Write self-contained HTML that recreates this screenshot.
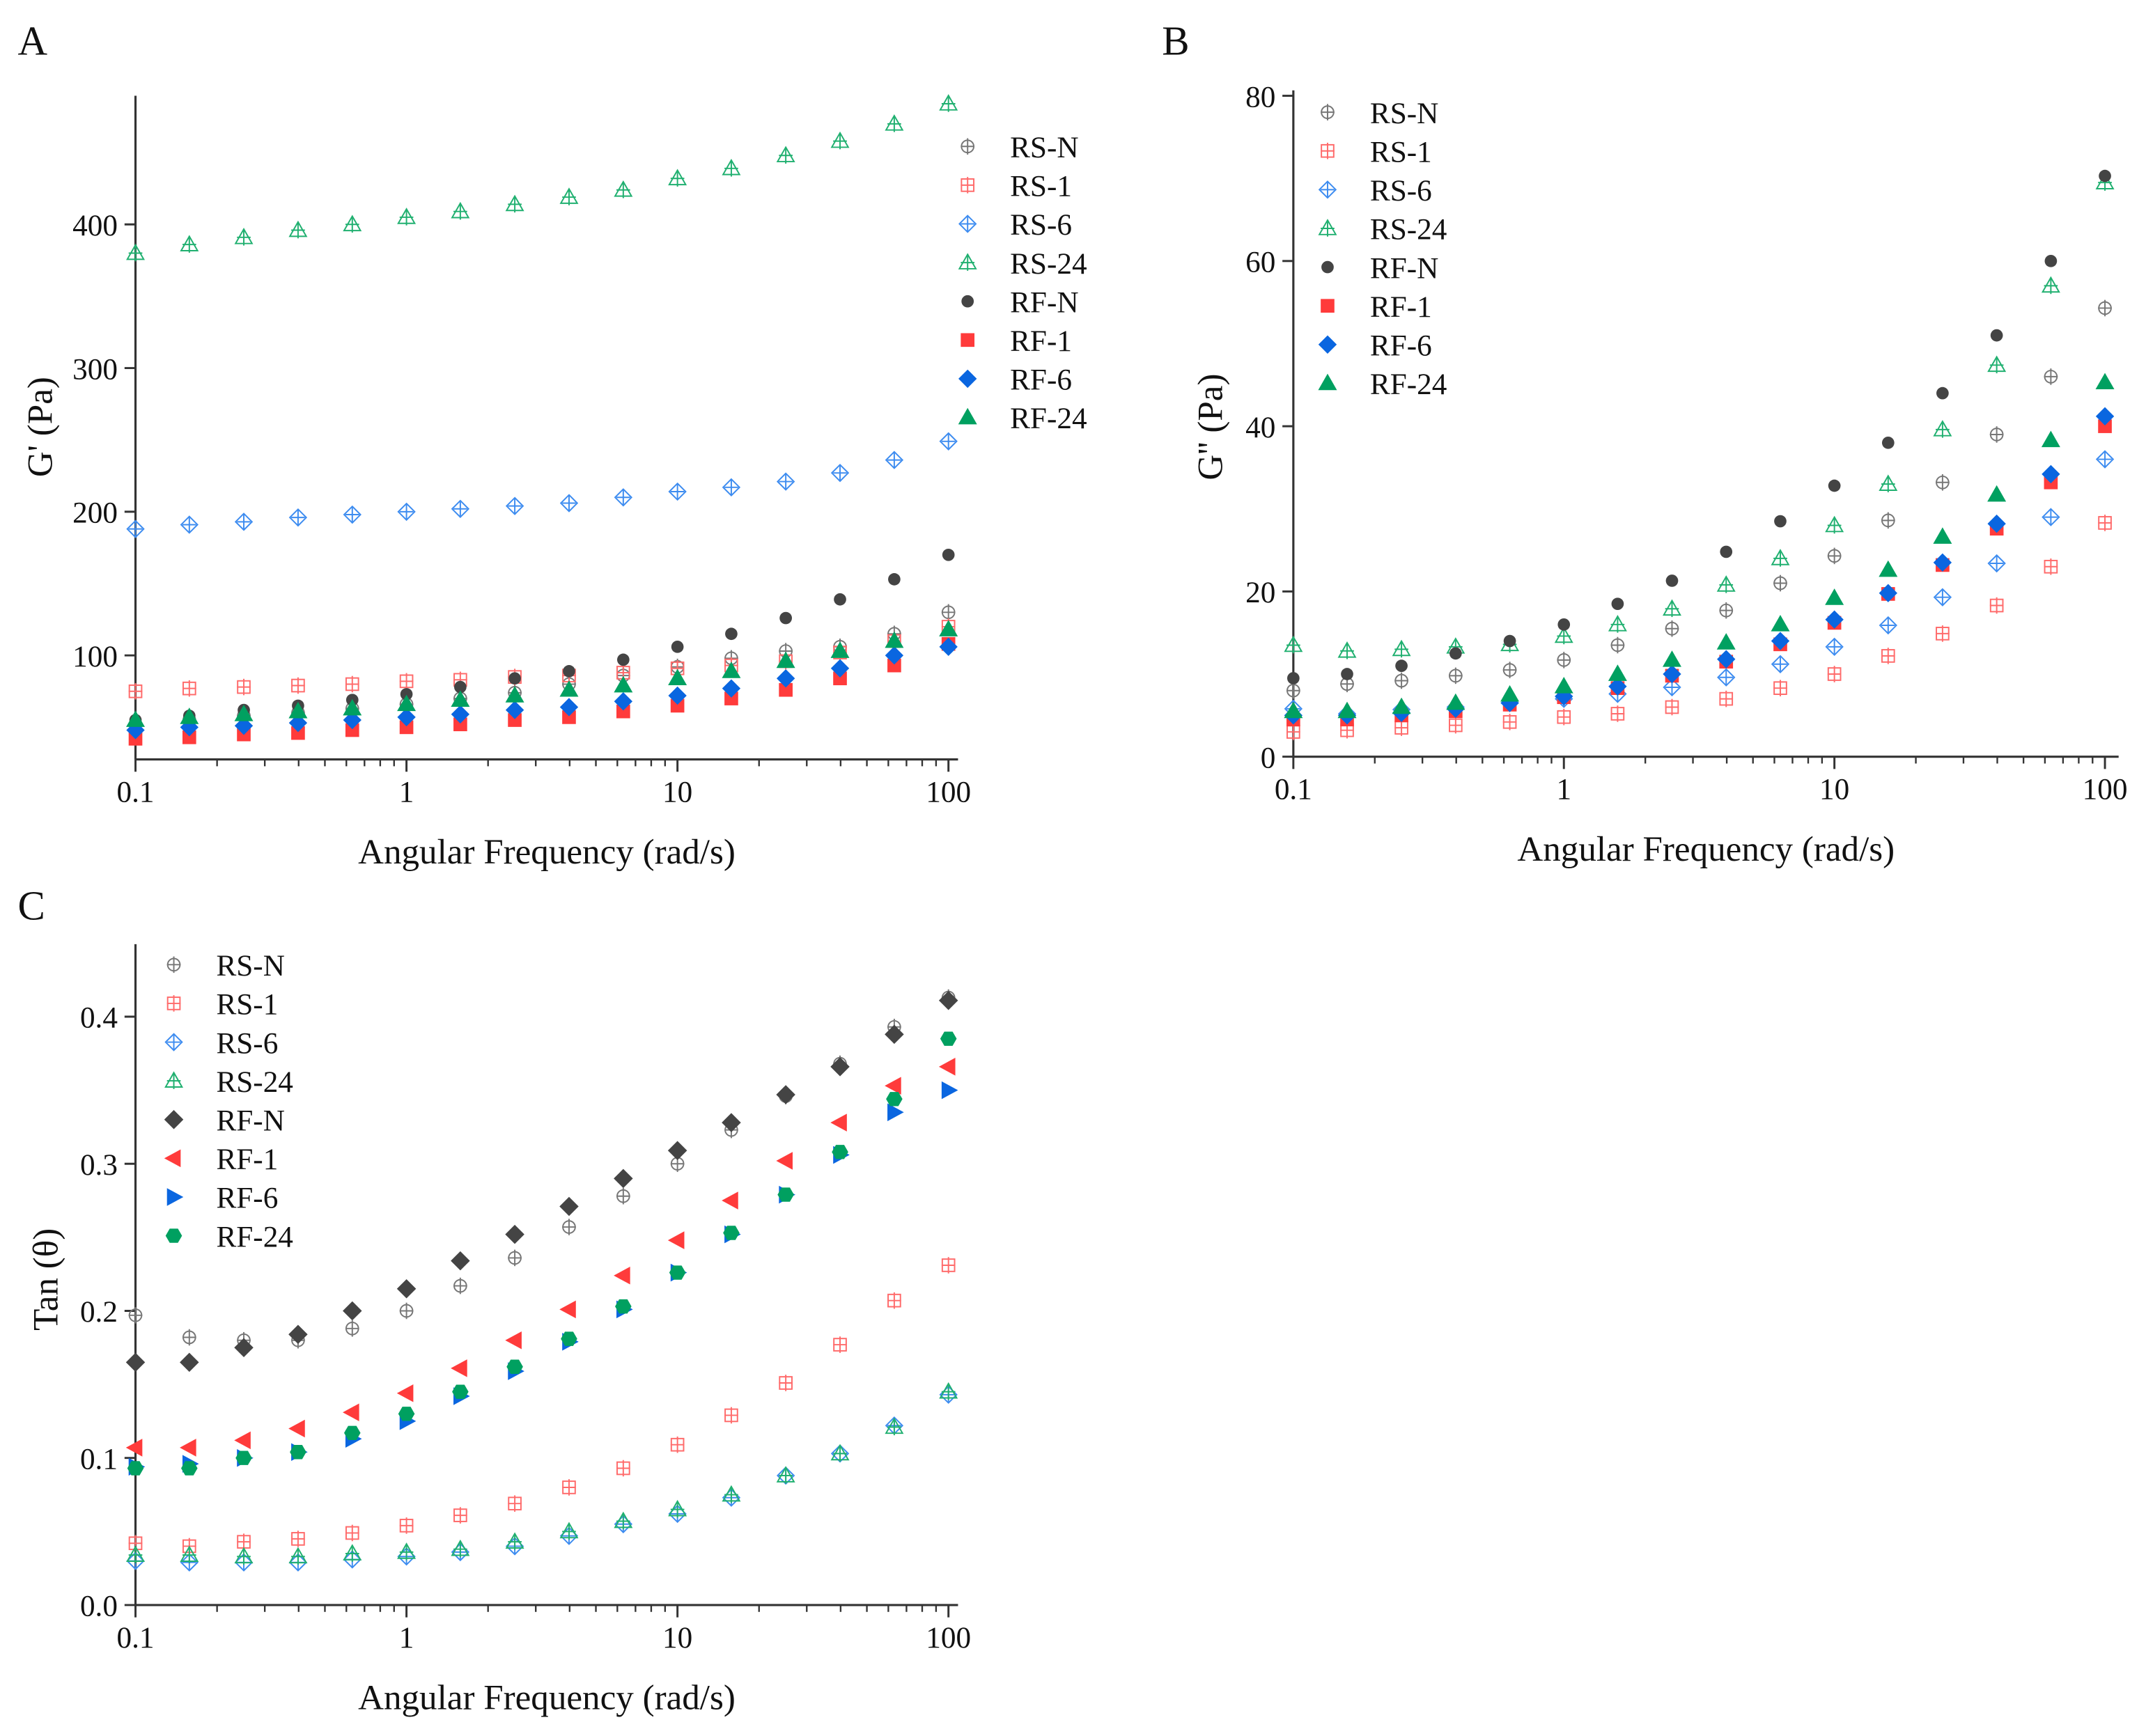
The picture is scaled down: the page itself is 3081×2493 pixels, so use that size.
<!DOCTYPE html>
<html><head><meta charset="utf-8"><style>
html,body{margin:0;padding:0;background:#fff}
svg{display:block}
svg text{font-family:"Liberation Serif","Times New Roman",serif;fill:#111}
</style></head><body>
<svg id="fig" font-family="Liberation Serif, serif" width="3081" height="2493" viewBox="0 0 1568 1268.7" preserveAspectRatio="none" xmlns="http://www.w3.org/2000/svg"></svg>
<script>
const freq=[0.1,0.158,0.251,0.398,0.631,1,1.58,2.51,3.98,6.31,10,15.8,25.1,39.8,63.1,100];
const seriesNames=["RS-N","RS-1","RS-6","RS-24","RF-N","RF-1","RF-6","RF-24"];
const gpRSN=[52,55,58,60,63,66,70,74,80,86,92,98,103,106,115,130];
const gpRS1=[75,77,78,79,80,82,83,85,86,88,91,93,96,102,110,120];
const gpRS6=[188,191,193,196,198,200,202,204,206,210,214,217,221,227,236,249];
const gpRS24=[380,386,391,396,400,405,409,414,419,424,432,439,448,458,470,484];
const gpRFN=[55,58,62,65,69,73,78,84,89,97,106,115,126,139,153,170];
const gpRF1=[42,43,45,46,48,50,52,55,57,61,65,70,76,84,93,108];
const gpRF6=[48,50,51,53,55,57,59,62,64,68,72,77,84,91,100,106];
const gpRF24=[55,57,59,61,63,66,69,72,76,79,84,89,96,103,110,118];
const gppRSN=[8,8.8,9.2,9.8,10.5,11.7,13.5,15.5,17.7,21,24.3,28.6,33.2,39,46,54.3];
const gppRS1=[3,3.2,3.5,3.8,4.2,4.8,5.2,6,7,8.3,10,12.2,14.9,18.3,23,28.3];
const gppRS6=[5.8,5.2,5.7,6,6.5,7,7.6,8.4,9.6,11.2,13.3,15.9,19.3,23.4,29,36];
const gppRS24=[13.5,12.8,13,13.3,13.6,14.6,16,17.9,20.8,24,28,33,39.6,47.4,57,69.5];
const gppRFN=[9.5,10,11,12.5,14,16,18.5,21.3,24.8,28.5,32.8,38,44,51,60,70.3];
const gppRF1=[4.5,4.5,5,5.5,6.3,7.2,8.3,9.8,11.5,13.6,16.2,19.7,23.2,27.6,33.2,40];
const gppRF6=[5,5,5.3,5.8,6.5,7.3,8.5,10,11.8,14,16.6,19.8,23.5,28.2,34.2,41.2];
const gppRF24=[5.5,5.5,6,6.5,7.5,8.5,10,11.7,13.8,16,19.2,22.6,26.6,31.7,38.3,45.3];
const tdRSN=[0.197,0.182,0.18,0.18,0.188,0.2,0.217,0.236,0.257,0.278,0.3,0.323,0.346,0.368,0.393,0.413];
const tdRS1=[0.042,0.04,0.043,0.045,0.049,0.054,0.061,0.069,0.08,0.093,0.109,0.129,0.151,0.177,0.207,0.231];
const tdRS6=[0.03,0.029,0.029,0.029,0.031,0.033,0.036,0.04,0.047,0.055,0.062,0.073,0.088,0.103,0.122,0.143];
const tdRS24=[0.034,0.034,0.033,0.033,0.035,0.036,0.038,0.043,0.05,0.057,0.065,0.075,0.088,0.103,0.121,0.145];
const tdRFN=[0.165,0.165,0.175,0.184,0.2,0.215,0.234,0.252,0.271,0.29,0.309,0.328,0.347,0.366,0.388,0.411];
const tdRF1=[0.107,0.107,0.112,0.12,0.131,0.144,0.161,0.18,0.201,0.224,0.248,0.275,0.302,0.328,0.353,0.366];
const tdRF6=[0.094,0.096,0.1,0.104,0.113,0.125,0.142,0.159,0.179,0.201,0.226,0.252,0.279,0.306,0.335,0.35];
const tdRF24=[0.093,0.093,0.1,0.104,0.117,0.13,0.145,0.162,0.181,0.203,0.226,0.253,0.279,0.308,0.344,0.385];
const xTicks=[0.1,1,10,100];
const xTickLabels=["0.1","1","10","100"];
const yTicksA=[100,200,300,400];
const yTicksB=[0,20,40,60,80];
const yTicksC=[0,0.1,0.2,0.3,0.4];
const yTickLabelsC=["0.0","0.1","0.2","0.3","0.4"];

const NS="http://www.w3.org/2000/svg";
const svg=document.getElementById('fig');
function mk(tag,attrs,parent,txt){const e=document.createElementNS(NS,tag);for(const k in attrs)e.setAttribute(k,attrs[k]);if(txt!==undefined)e.textContent=txt;(parent||svg).appendChild(e);return e;}
const GR="#444",RD="#ff3b3b",RDL="#ff6b6b",BL="#0a66e0",BLL="#3d8cf0",GN="#00a060",GNL="#20b070";
const styles=[
 {shape:"circ",open:true,c:"#777"},{shape:"sq",open:true,c:RDL},{shape:"dia",open:true,c:BLL},{shape:"tri",open:true,c:GNL},
 {shape:"circ",open:false,c:GR},{shape:"sq",open:false,c:RD},{shape:"dia",open:false,c:BL},{shape:"tri",open:false,c:GN}];
const stylesC=[styles[0],styles[1],styles[2],styles[3],
 {shape:"bigdia",open:false,c:GR},{shape:"ltri",open:false,c:RD},{shape:"rtri",open:false,c:BL},{shape:"hex",open:false,c:GN}];
function marker(g,s,x,y){
 let d;
 switch(s.shape){
  case"circ":if(s.open){mk('circle',{cx:x,cy:y,r:4.5,fill:'none',stroke:s.c,'stroke-width':1},g);}else{mk('circle',{cx:x,cy:y,r:4.5,fill:s.c},g);}break;
  case"sq":mk('rect',{x:x-4.5,y:y-4.5,width:9,height:9,fill:s.open?'none':s.c,stroke:s.c,'stroke-width':1},g);break;
  case"dia":mk('polygon',{points:`${x},${y-6} ${x+6},${y} ${x},${y+6} ${x-6},${y}`,fill:s.open?'none':s.c,stroke:s.c,'stroke-width':1},g);break;
  case"tri":mk('polygon',{points:`${x},${y-6} ${x+6},${y+4.5} ${x-6},${y+4.5}`,fill:s.open?'none':s.c,stroke:s.c,'stroke-width':1},g);break;
  case"bigdia":mk('polygon',{points:`${x},${y-7} ${x+7},${y} ${x},${y+7} ${x-7},${y}`,fill:s.c},g);break;
  case"ltri":mk('polygon',{points:`${x-7},${y} ${x+5},${y-6.5} ${x+5},${y+6.5}`,fill:s.c},g);break;
  case"rtri":mk('polygon',{points:`${x+7},${y} ${x-5},${y-6.5} ${x-5},${y+6.5}`,fill:s.c},g);break;
  case"hex":d=[];for(let i=0;i<6;i++){const a=Math.PI/3*i;d.push((x+6*Math.cos(a))+','+(y+6*Math.sin(a)));}mk('polygon',{points:d.join(' '),fill:s.c},g);break;
 }
 if(s.open){mk('line',{x1:x-5,y1:y,x2:x+5,y2:y,stroke:s.c,'stroke-width':1},g);mk('line',{x1:x,y1:y-6,x2:x,y2:y+6,stroke:s.c,'stroke-width':1},g);}
}
const FF="Liberation Serif, serif";
function panel(cfg){
 const g=mk('g',{});
 const X=v=>cfg.x0+(Math.log10(v)+1)/3*(cfg.x1-cfg.x0);
 const Y=v=>cfg.yb-(v-cfg.ymin)/(cfg.ymax-cfg.ymin)*(cfg.yb-cfg.yt);
 const pl=mk('text',{x:cfg.lx,y:cfg.ly,'font-size':30,'font-family':FF},g,cfg.letter);
 const ax=mk('g',{},g);
 mk('line',{x1:cfg.x0,y1:cfg.axTop,x2:cfg.x0,y2:cfg.yb,stroke:'#333','stroke-width':1.6},ax);
 mk('line',{x1:cfg.x0,y1:cfg.yb,x2:cfg.xEnd,y2:cfg.yb,stroke:'#333','stroke-width':1.6},ax);
 for(let dec=-1;dec<2;dec++)for(let m=2;m<10;m++){const xv=X(m*Math.pow(10,dec));mk('line',{x1:xv,y1:cfg.yb,x2:xv,y2:cfg.yb+5,stroke:'#333','stroke-width':1.2},ax);}
 xTicks.forEach((t,i)=>{const xv=X(t);mk('line',{x1:xv,y1:cfg.yb,x2:xv,y2:cfg.yb+9,stroke:'#333','stroke-width':1.5},ax);
  const tl=mk('text',{x:xv,y:cfg.yb+31,'font-size':22,'text-anchor':'middle','font-family':FF},ax,xTickLabels[i]);});
 cfg.ytTicks.forEach((t,i)=>{const yv=Y(t);mk('line',{x1:cfg.x0-8,y1:yv,x2:cfg.x0,y2:yv,stroke:'#333','stroke-width':1.5},ax);
  const tl=mk('text',{x:cfg.x0-13,y:yv+8,'font-size':22,'text-anchor':'end','font-family':FF},ax,cfg.yLabels?cfg.yLabels[i]:String(t));});
 const xt=mk('text',{x:(cfg.x0+cfg.xEnd)/2,y:cfg.yb+76,'font-size':26,'text-anchor':'middle','font-family':FF},ax,'Angular Frequency (rad/s)');
 const cy=cfg.ytcy;
 const yt=mk('text',{x:cfg.ytx,y:cy,'font-size':26,'text-anchor':'middle','font-family':FF,transform:`rotate(-90 ${cfg.ytx} ${cy})`},ax,cfg.ytitle);
 cfg.data.forEach((arr,si)=>{const sg=mk('g',{},g);
  arr.forEach((v,i)=>marker(sg,cfg.styles[si],X(freq[i]),Y(v)));});
 const lg=mk('g',{},g);
 seriesNames.forEach((n,i)=>{const y=cfg.legY+i*28.3;const e=mk('g',{},lg);
  marker(e,cfg.styles[i],cfg.legX,y);mk('text',{x:cfg.legX+31,y:y+8,'font-size':22,'font-family':FF},e,n);});
}
panel({name:'panel-a-storage-modulus',letter:'A',lx:13,ly:40,x0:99,x1:693,xEnd:700,yb:555,axTop:70,yt:164,ymin:27.6,ymax:400,
 ytTicks:yTicksA,ytitle:"G' (Pa)",ytx:38,ytcy:312,data:[gpRSN,gpRS1,gpRS6,gpRS24,gpRFN,gpRF1,gpRF6,gpRF24],styles:styles,legX:707,legY:107});
panel({name:'panel-b-loss-modulus',letter:'B',lx:849,ly:40,x0:945,x1:1538,xEnd:1548,yb:553,axTop:66,yt:70,ymin:0,ymax:80,
 ytTicks:yTicksB,ytitle:"G'' (Pa)",ytx:893,ytcy:312,data:[gppRSN,gppRS1,gppRS6,gppRS24,gppRFN,gppRF1,gppRF6,gppRF24],styles:styles,legX:970,legY:82});
panel({name:'panel-c-tan-delta',letter:'C',lx:13,ly:672,x0:99,x1:693,xEnd:700,yb:1173,axTop:690,yt:743,ymin:0,ymax:0.4,
 ytTicks:yTicksC,yLabels:yTickLabelsC,ytitle:"Tan (θ)",ytx:42,ytcy:935,data:[tdRSN,tdRS1,tdRS6,tdRS24,tdRFN,tdRF1,tdRF6,tdRF24],styles:stylesC,legX:127,legY:705});
</script>
</body></html>
